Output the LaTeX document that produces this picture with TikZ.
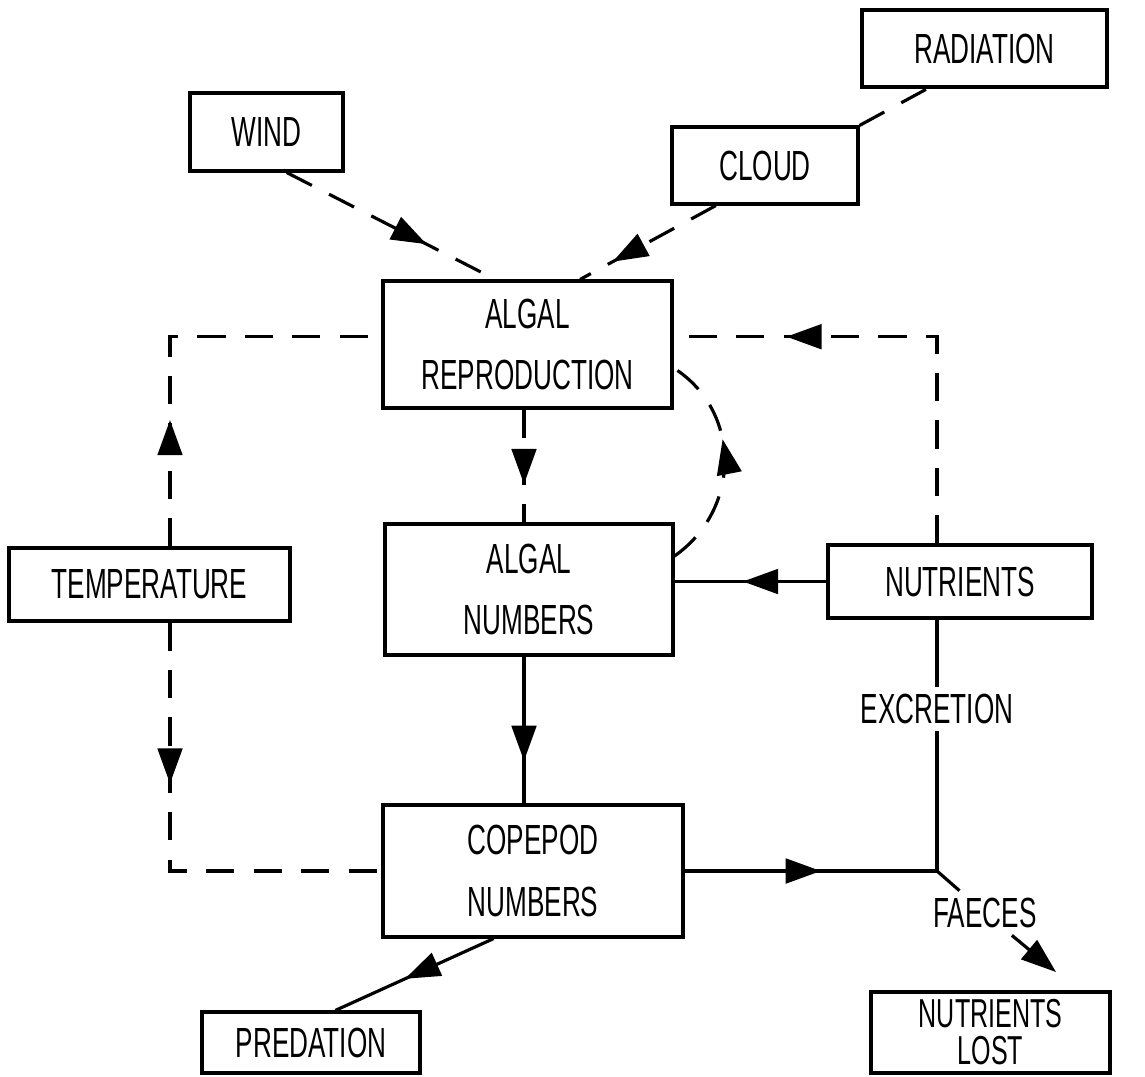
\documentclass[tikz,border=0pt]{standalone}
\usepackage{fontspec}
\setmainfont{Liberation Sans}[FakeStretch=0.62]
\usetikzlibrary{arrows.meta}
\usetikzlibrary{decorations.markings}
\usetikzlibrary{calc}

\begin{document}
\begin{tikzpicture}[x=0.02cm, y=-0.02cm, line width=1.8pt,
	font=\fontsize{24}{35}\selectfont,
	box/.style={draw, align=center, inner sep=0pt},
	dashline/.style={dash pattern=on 16pt off 11pt},
	tip/.style={-{Triangle[length=20pt,width=14pt]}},
	midarrow/.style={postaction={decorate}, decoration={markings,
		mark=at position #1 with {\arrow{Triangle[length=20pt,width=14pt]}}}}]
			\useasboundingbox (0,0) rectangle (1145,1076);
			% boxes
			\node[box, minimum width=4.90cm, minimum height=1.54cm] (radiation) at (984.5,48.5) {RADIATION};
			\node[box, minimum width=3.06cm, minimum height=1.56cm] (wind) at (266.5,132) {WIND};
			\node[box, minimum width=3.72cm, minimum height=1.54cm] (cloud) at (765,165.5) {CLOUD};
			\node[box, minimum width=5.78cm, minimum height=2.54cm] (repro) at (527.5,344.5) {ALGAL\\REPRODUCTION};
			\node[box, minimum width=5.62cm, minimum height=1.46cm] (temp) at (149.5,584.5) {TEMPERATURE};
			\node[box, minimum width=5.76cm, minimum height=2.62cm] (numbers) at (529,589.5) {ALGAL\\NUMBERS};
			\node[box, minimum width=5.28cm, minimum height=1.46cm] (nutrients) at (960,581.5) {NUTRIENTS};
			\node[box, minimum width=6.00cm, minimum height=2.64cm] (copepod) at (533,871) {COPEPOD\\NUMBERS};
			\node[box, minimum width=4.36cm, minimum height=1.22cm] (predation) at (311,1042.5) {PREDATION};
			\node[box, minimum width=4.78cm, minimum height=1.62cm, font=\fontsize{23}{21}\selectfont] (lost) at (990.5,1032.5) {NUTRIENTS\\LOST};
			\node (excr) at (937,709) {EXCRETION};
			\node (faeces) at (985,913) {FAECES};
			% x of the vertical links
			\coordinate (tx) at (170,0);
			\coordinate (ax) at (524,0);
			\coordinate (nx) at (937,0);
			\coordinate (junc) at (copepod.east -| nx);
			\coordinate (faecestip) at (1056,972);
			% weather
			\draw[dashline] (cloud.north east) -- ($(radiation.south west)!0.27!(radiation.south east)$);
			\draw[dashline, midarrow=0.67] ($(wind.south west)!0.63!(wind.south east)$) -- ($(repro.north west)!0.39!(repro.north east)$);
			\draw[dashline, midarrow=0.76] ($(cloud.south west)!0.24!(cloud.south east)$) -- ($(repro.north west)!0.68!(repro.north east)$);
			% temperature
			\draw[dashline, midarrow=0.3] (temp.north -| tx) |- ($(repro.north west)!0.44!(repro.south west)$);
			\draw[dashline, midarrow=0.35] (temp.south -| tx) |- (copepod.west);
			% algae
			\draw[dashline, midarrow=0.66] (repro.south -| ax) -- (numbers.north -| ax);
			\draw[dashline, midarrow=0.6] ($(numbers.north east)!0.25!(numbers.south east)$)
				.. controls +(67,-47) and +(68,43) .. ($(repro.north east)!0.68!(repro.south east)$);
			\draw[midarrow=0.71] (numbers.south -| ax) -- (copepod.north -| ax);
			% nutrients
			\draw[dashline, midarrow=0.76] (nutrients.north -| nx) |- ($(repro.north east)!0.44!(repro.south east)$);
			\draw[midarrow=0.55] (nutrients.west) -- (numbers.east |- nutrients.west);
			\draw[midarrow=0.54] (copepod.east) -- (junc);
			\draw (junc) -- (excr) -- (nutrients.south -| nx);
			\draw (junc) -- (faeces);
			\draw[tip] (faeces) -- (faecestip);
			\draw[midarrow=0.56] ($(copepod.south west)!0.37!(copepod.south east)$) -- ($(predation.north west)!0.61!(predation.north east)$);
		\end{tikzpicture}
\end{document}
